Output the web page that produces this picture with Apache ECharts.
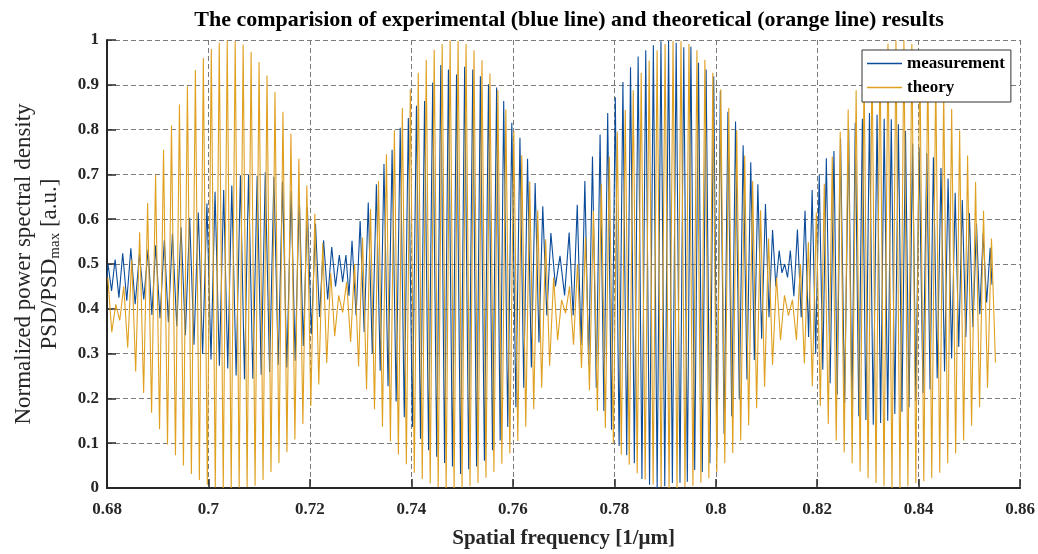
<!DOCTYPE html>
<html>
<head>
<meta charset="utf-8">
<script src="https://cdn.jsdelivr.net/npm/echarts/dist/echarts.min.js"></script>
<style>
html,body{margin:0;padding:0;background:#fff;}
#chart{width:1038px;height:554px;}
</style>
</head>
<body>
<div id="chart"></div>
<script>
// ---------- DATA ----------
const titleText = 'The comparision of experimental (blue line) and theoretical (orange line) results';
const xTicks = [0.68, 0.70, 0.72, 0.74, 0.76, 0.78, 0.80, 0.82, 0.84, 0.86];
const yTicks = [0, 0.1, 0.2, 0.3, 0.4, 0.5, 0.6, 0.7, 0.8, 0.9, 1];
const seriesNames = ['measurement', 'theory'];

// measurement: spatial frequency of each fringe maximum, the maximum and the following minimum
const measStartFreq = 0.68;
const measStartValue = 0.47;
const measFreq = [
  0.6802,0.6816,0.6831,0.6847,0.6864,0.6881,0.6896,0.6913,0.6929,0.6946,
  0.6963,0.6980,0.6997,0.7013,0.7030,0.7046,0.7063,0.7079,0.7096,0.7112,
  0.7129,0.7146,0.7163,0.7179,0.7195,0.7211,0.7227,0.7243,0.7258,0.7271,
  0.7283,0.7299,0.7315,0.7331,0.7346,0.7362,0.7378,0.7394,0.7410,0.7426,
  0.7442,0.7458,0.7473,0.7489,0.7505,0.7521,0.7536,0.7552,0.7568,0.7582,
  0.7598,0.7614,0.7629,0.7644,0.7659,0.7675,0.7693,0.7711,0.7727,0.7742,
  0.7757,0.7772,0.7787,0.7802,0.7817,0.7832,0.7847,0.7862,0.7877,0.7892,
  0.7907,0.7922,0.7937,0.7951,0.7966,0.7981,0.7996,0.8009,0.8024,0.8039,
  0.8054,0.8069,0.8083,0.8098,0.8112,0.8125,0.8136,0.8147,0.8161,0.8176,
  0.8190,0.8204,0.8218,0.8233,0.8246,0.8262,0.8275,0.8289,0.8303,0.8318,
  0.8332,0.8346,0.8360,0.8374,0.8388,0.8401,0.8416,0.8429,0.8444,0.8458,
  0.8472,0.8486,0.8500,0.8514,0.8527,0.8541
];
const measPeak = [
  0.50,0.51,0.524,0.535,0.522,0.533,0.542,0.553,0.568,0.582,
  0.603,0.615,0.635,0.661,0.665,0.675,0.698,0.700,0.697,0.705,
  0.695,0.684,0.663,0.652,0.626,0.590,0.553,0.538,0.52,0.52,
  0.552,0.596,0.637,0.678,0.723,0.755,0.804,0.826,0.853,0.864,
  0.905,0.944,0.934,0.923,0.940,0.934,0.919,0.901,0.894,0.864,
  0.815,0.782,0.735,0.681,0.629,0.569,0.518,0.570,0.632,0.685,
  0.740,0.789,0.837,0.872,0.906,0.939,0.963,0.977,0.988,0.997,
  0.998,0.994,0.984,0.985,0.949,0.934,0.919,0.886,0.840,0.818,
  0.765,0.727,0.678,0.634,0.576,0.530,0.50,0.530,0.577,0.619,
  0.665,0.699,0.736,0.752,0.780,0.802,0.815,0.824,0.837,0.833,
  0.824,0.823,0.812,0.797,0.769,0.760,0.747,0.738,0.714,0.691,
  0.659,0.643,0.614,0.590,0.568,0.536
];
const measTrough = [
  0.44,0.425,0.418,0.410,0.421,0.386,0.379,0.370,0.361,0.341,
  0.320,0.299,0.287,0.273,0.267,0.251,0.243,0.244,0.253,0.259,
  0.275,0.269,0.284,0.317,0.343,0.382,0.421,0.45,0.46,0.429,
  0.385,0.348,0.300,0.262,0.227,0.193,0.158,0.136,0.110,0.084,
  0.070,0.056,0.048,0.031,0.042,0.048,0.061,0.084,0.106,0.136,
  0.180,0.224,0.269,0.325,0.385,0.45,0.43,0.385,0.319,0.275,
  0.224,0.172,0.130,0.094,0.073,0.055,0.020,0.007,0.000,0.004,
  0.011,0.012,0.014,0.040,0.036,0.055,0.090,0.121,0.160,0.198,
  0.242,0.286,0.333,0.381,0.45,0.48,0.47,0.428,0.381,0.337,
  0.300,0.264,0.234,0.209,0.19,0.176,0.16,0.152,0.141,0.145,
  0.150,0.165,0.17,0.180,0.195,0.212,0.220,0.245,0.260,0.289,
  0.315,0.337,0.359,0.388,0.414,0.454
];

// theory: fringe maxima sampled on the read fringe period, each followed by its minimum
const theoryFirstPeakFreq = 0.68016;
const theoryPeriod = 0.0015693;
const theoryPeak = [
  0.47,0.41,0.45,0.51,0.571,0.636,0.699,0.755,0.809,0.856,0.897,0.933,0.960,0.980,0.994,0.999,0.998,0.990,0.974,0.951,0.921,0.884,0.840,0.791,0.735,0.675,0.612,0.547,
  0.48,0.43,0.46,0.50,0.559,0.623,0.685,0.745,0.799,0.848,0.890,0.927,0.956,0.978,0.991,0.999,0.998,0.991,0.977,0.955,0.925,0.889,0.845,0.797,0.743,0.684,0.620,0.555,
  0.47,0.42,0.45,0.50,0.559,0.619,0.679,0.740,0.795,0.844,0.888,0.927,0.954,0.977,0.991,0.998,0.998,0.991,0.977,0.956,0.927,0.890,0.848,0.799,0.742,0.685,0.620,0.557,
  0.47,0.43,0.42,0.50,0.549,0.615,0.679,0.740,0.795,0.845,0.888,0.926,0.956,0.978,0.992,0.999,0.999,0.991,0.977,0.955,0.926,0.889,0.846,0.798,0.742,0.683,0.619,0.557
];
const theoryTrough = [
  0.348,0.374,0.313,0.260,0.212,0.168,0.131,0.097,0.073,0.050,0.031,0.018,0.007,0.001,0.000,0.000,0.001,0.002,0.005,0.018,0.036,0.056,0.080,0.108,0.143,0.183,0.231,0.279,
  0.339,0.392,0.326,0.271,0.220,0.176,0.137,0.104,0.075,0.053,0.034,0.020,0.010,0.002,0.000,0.000,0.001,0.004,0.011,0.023,0.036,0.054,0.077,0.105,0.137,0.176,0.224,0.273,
  0.330,0.390,0.320,0.268,0.218,0.172,0.134,0.100,0.074,0.052,0.033,0.019,0.008,0.002,0.000,0.000,0.002,0.005,0.012,0.022,0.036,0.055,0.078,0.106,0.140,0.178,0.226,0.275,
  0.330,0.385,0.330,0.278,0.227,0.183,0.143,0.106,0.079,0.055,0.037,0.022,0.011,0.004,0.000,0.000,0.004,0.011,0.015,0.022,0.034,0.055,0.077,0.106,0.139,0.180,0.224,0.280
];

// ---------- build series data ----------
const measData = [[measStartFreq, measStartValue]];
for (let i = 0; i < measFreq.length; i++) {
  measData.push([measFreq[i], measPeak[i]]);
  const next = i + 1 < measFreq.length ? measFreq[i + 1] : measFreq[i] + (measFreq[i] - measFreq[i - 1]) * 0.5;
  measData.push([(measFreq[i] + next) / 2, measTrough[i]]);
}
const theoryData = [];
for (let k = 0; k < theoryPeak.length; k++) {
  const f = theoryFirstPeakFreq + k * theoryPeriod;
  theoryData.push([f, theoryPeak[k]]);
  theoryData.push([f + theoryPeriod / 2, theoryTrough[k]]);
}

const serif = "'Liberation Serif', 'DejaVu Serif', serif";
const dark = '#262626';
const chart = echarts.init(document.getElementById('chart'), null, {renderer: 'canvas'});
chart.setOption({
  animation: false,
  backgroundColor: '#ffffff',
  title: {
    text: titleText,
    left: 564,
    textAlign: 'center',
    top: 4,
    textStyle: {fontFamily: serif, fontSize: 22, fontWeight: 'bold', color: '#000'}
  },
  legend: {
    data: seriesNames,
    orient: 'vertical',
    left: 862,
    top: 50,
    padding: [5, 6, 6, 5],
    itemGap: 7,
    itemWidth: 35,
    itemHeight: 1.5,
    icon: 'rect',
    backgroundColor: '#ffffff',
    borderColor: '#333333',
    borderWidth: 1,
    textStyle: {fontFamily: serif, fontSize: 17, fontWeight: 'bold', color: '#000', lineHeight: 16}
  },
  grid: {left: 107, right: 16, top: 40, bottom: 59, containLabel: false},
  xAxis: {
    type: 'value',
    min: xTicks[0],
    max: xTicks[xTicks.length - 1],
    interval: 0.02,
    name: 'Spatial frequency [1/μm]',
    nameLocation: 'middle',
    nameGap: 40,
    nameTextStyle: {fontFamily: serif, fontSize: 21, fontWeight: 'bold', color: dark},
    axisLine: {show: true, lineStyle: {color: dark, width: 2}},
    axisTick: {show: true, inside: true, length: 9, lineStyle: {color: dark, width: 1.5}},
    axisLabel: {
      margin: 13, fontFamily: serif, fontSize: 17, fontWeight: 'bold', color: dark,
      formatter: v => String(+v.toFixed(2))
    },
    splitLine: {show: true, lineStyle: {color: '#7a7a7a', type: [5, 3], width: 1}}
  },
  yAxis: {
    type: 'value',
    min: yTicks[0],
    max: yTicks[yTicks.length - 1],
    interval: 0.1,
    name: 'Normalized power spectral density\n{a|PSD/PSD}{s|max}{a| [a.u.]}',
    nameLocation: 'middle',
    nameRotate: 90,
    nameGap: 44,
    nameTextStyle: {
      fontFamily: serif, fontSize: 23, color: dark, lineHeight: 26,
      rich: {
        a: {fontFamily: serif, fontSize: 23, color: dark, lineHeight: 26},
        s: {fontFamily: serif, fontSize: 15, color: dark, lineHeight: 26, verticalAlign: 'bottom', padding: [11, 0, 0, 0]}
      }
    },
    axisLine: {show: true, lineStyle: {color: dark, width: 2}},
    axisTick: {show: true, inside: true, length: 9, lineStyle: {color: dark, width: 1.5}},
    axisLabel: {
      margin: 8, fontFamily: serif, fontSize: 17, fontWeight: 'bold', color: dark,
      formatter: v => String(+v.toFixed(1))
    },
    splitLine: {show: true, lineStyle: {color: '#7a7a7a', type: [5, 3], width: 1}}
  },
  series: [
    {
      name: seriesNames[0], type: 'line', data: measData, symbol: 'none',
      lineStyle: {color: '#0b4c9a', width: 1.1}, itemStyle: {color: '#0b4c9a'}, z: 2
    },
    {
      name: seriesNames[1], type: 'line', data: theoryData, symbol: 'none',
      lineStyle: {color: '#e0a020', width: 1.1}, itemStyle: {color: '#e0a020'}, z: 3
    }
  ]
});
</script>
</body>
</html>
